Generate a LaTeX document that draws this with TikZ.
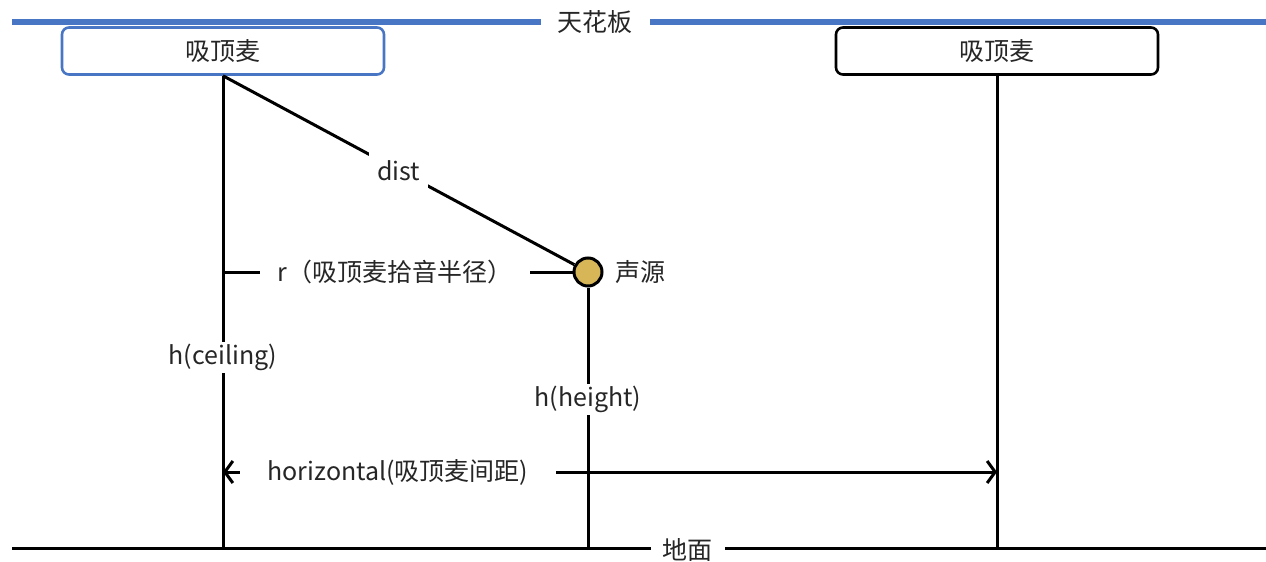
\documentclass[tikz,border=0pt]{standalone}
\usepackage{fontspec}
\setmainfont{Noto Sans CJK SC}
\usetikzlibrary{arrows.meta}
\definecolor{ceilblue}{RGB}{72,118,196}
\definecolor{srcfill}{RGB}{214,182,86}
\tikzset{
  txt/.style={font=\fontsize{25}{30}\selectfont, text=black!85},
  lbl/.style={txt, fill=white, inner ysep=2pt},
  micbox/.style={txt, draw, line width=2.6pt, rounded corners=7pt, fill=white,
                 minimum width=322pt, minimum height=47pt},
  wire/.style={draw=black, line width=3pt},
}
\begin{document}
\begin{tikzpicture}[x=1pt,y=-1pt]
\useasboundingbox (0,0) rectangle (1266,562);
% ceiling
\coordinate (cL) at (12,22);
\coordinate (cR) at (1266,22);
\draw[draw=ceilblue, line width=6.5pt] (cL) -- (cR)
  node[lbl, pos=0.465, inner xsep=17pt] (ceil) {天花板};
% ground
\coordinate (gL) at (12,548);
\coordinate (gR) at (1266,548);
\coordinate (yH) at (0,472);
% mics
\node[micbox, draw=ceilblue] (micL) at (223,51) {吸顶麦};
\node[micbox, draw=black] (micR) at (997,51) {吸顶麦};
% source
\node[draw=black, line width=3pt, fill=srcfill, circle, minimum size=28pt, inner sep=0pt] (src) at (588,272) {};
\node[txt, anchor=west] (srcl) at (612,272) {声源};
% verticals
\draw[wire] (micL.south) -- (micL.south |- gL)
  node[lbl, pos=0.597] (hc) {h(ceiling)};
\draw[wire] (micR.south) -- (micR.south |- gL);
\draw[wire] (src.south) -- (src.south |- gL)
  node[lbl, pos=0.43] (hh) {h(height)};
% dist
\draw[wire] (micL.south) -- (src)
  node[lbl, pos=0.5, inner sep=8pt] (dist) {dist};
% r
\draw[wire] (micL.south |- src) -- (src.west)
  node[lbl, pos=0.492, inner xsep=18pt] (rl) {r（吸顶麦拾音半径）};
% horizontal
\draw[wire, {Straight Barb[length=8pt,width=22pt]}-{Straight Barb[length=8pt,width=22pt]}]
  (micL.south |- yH) -- (micR.south |- yH)
  node[lbl, pos=0.226, inner xsep=28pt] (hz) {horizontal(吸顶麦间距)};
% ground line
\draw[wire] (gL) -- (gR)
  node[lbl, pos=0.539, inner xsep=12pt, yshift=-2pt] (gnd) {地面};
\end{tikzpicture}
\end{document}
